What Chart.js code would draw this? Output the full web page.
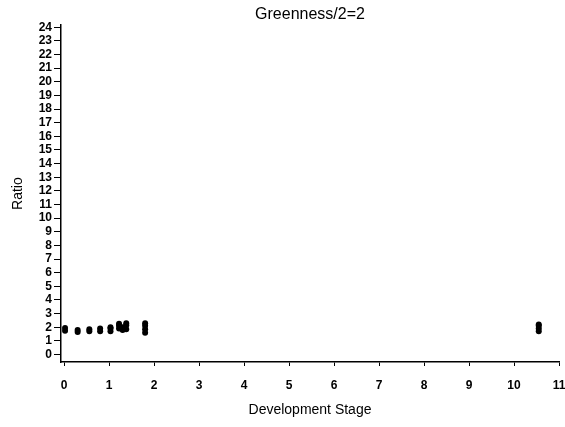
<!DOCTYPE html>
<html>
<head>
<meta charset="utf-8">
<script src="https://cdn.jsdelivr.net/npm/chart.js"></script>
<style>
  body { margin: 0; background: #fff; }
  canvas { display: block; }
</style>
</head>
<body>
<canvas id="chart" width="565" height="427"></canvas>
<script>
  // Development stage (x) and ratio (y) for each plotted point
  const stages = [0.02, 0.02, 0.30, 0.30, 0.56, 0.56, 0.80, 0.80,
                  1.03, 1.03, 1.03, 1.22, 1.22, 1.22, 1.30, 1.30,
                  1.38, 1.38, 1.38, 1.80, 1.80, 1.80, 1.80,
                  10.55, 10.55, 10.55, 10.55];
  const ratios = [1.75, 1.95, 1.65, 1.8, 1.7, 1.85, 1.7, 1.9,
                  1.7, 1.9, 2.0, 1.9, 2.1, 2.25, 1.8, 2.0,
                  1.85, 2.15, 2.3, 1.6, 1.85, 2.1, 2.3,
                  1.7, 1.9, 2.1, 2.2];

  // Tick labels
  const xTicks = [0, 1, 2, 3, 4, 5, 6, 7, 8, 9, 10, 11];
  const yTicks = [0, 1, 2, 3, 4, 5, 6, 7, 8, 9, 10, 11, 12, 13, 14, 15, 16,
                  17, 18, 19, 20, 21, 22, 23, 24];

  const points = stages.map((s, i) => ({ x: s, y: ratios[i] }));

  Chart.defaults.color = '#000';
  Chart.defaults.font.family = '"Liberation Sans", Arial, sans-serif';

  const tickFont = { family: '"Liberation Sans", Arial, sans-serif', size: 12, weight: 'bold' };

  new Chart(document.getElementById('chart'), {
    type: 'scatter',
    data: {
      datasets: [{
        data: points,
        pointRadius: 3,
        pointHoverRadius: 3,
        backgroundColor: '#000',
        borderWidth: 0
      }]
    },
    options: {
      responsive: false,
      animation: false,
      layout: { padding: { left: 0, right: 6, top: 0, bottom: 0 } },
      plugins: {
        legend: { display: false },
        tooltip: { enabled: false },
        title: {
          display: true,
          text: 'Greenness/2=2',
          fullSize: false,
          color: '#000',
          font: { size: 16, weight: 'normal' },
          padding: { top: 5, bottom: 1 }
        }
      },
      scales: {
        x: {
          type: 'linear',
          min: -0.07,
          max: 11,
          afterBuildTicks: (scale) => { scale.ticks = xTicks.map(v => ({ value: v })); },
          afterFit: (scale) => {
            scale.height = 65;
            scale.paddingLeft = 0;
            scale.paddingRight = 0;
          },
          border: { display: true, color: '#000', width: 1.5 },
          grid: { drawOnChartArea: false, drawTicks: true, tickLength: 4, color: '#000' },
          ticks: { font: tickFont, padding: 12, maxRotation: 0, autoSkip: false },
          title: {
            display: true,
            text: 'Development Stage',
            font: { size: 14 },
            padding: { top: 0, bottom: 8.6 }
          }
        },
        y: {
          type: 'linear',
          min: -0.55,
          max: 24.15,
          afterBuildTicks: (scale) => { scale.ticks = yTicks.map(v => ({ value: v })); },
          afterFit: (scale) => {
            scale.width = 61;
            scale.paddingTop = 0;
            scale.paddingBottom = 0;
          },
          border: { display: true, color: '#000', width: 1.5 },
          grid: { drawOnChartArea: false, drawTicks: true, tickLength: 7, color: '#000' },
          ticks: { font: tickFont, padding: 2, autoSkip: false },
          title: {
            display: true,
            text: 'Ratio',
            font: { size: 14 },
            padding: { top: 9.6, bottom: 0 }
          }
        }
      }
    }
  });
</script>
</body>
</html>
